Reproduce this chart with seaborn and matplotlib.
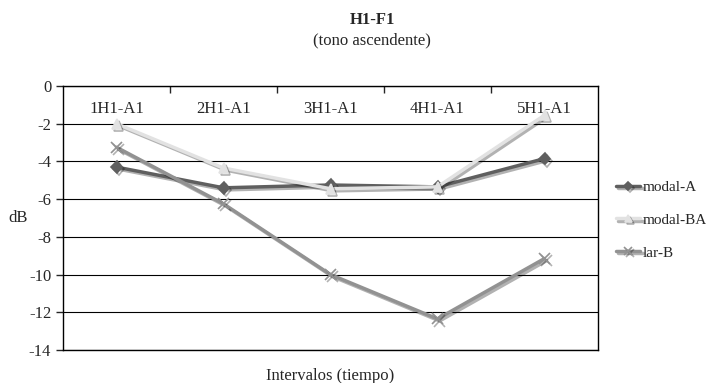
import matplotlib
matplotlib.use("Agg")
import matplotlib.pyplot as plt
import matplotlib.patheffects as pe
import seaborn as sns
import pandas as pd
import numpy as np

categories = ["1H1-A1", "2H1-A1", "3H1-A1", "4H1-A1", "5H1-A1"]
modal_A = [-4.3, -5.4, -5.25, -5.35, -3.85]
modal_BA = [-2.0, -4.35, -5.45, -5.35, -1.55]
lar_B = [-3.25, -6.25, -10.0, -12.35, -9.15]
series_names = ["modal-A", "modal-BA", "lar-B"]
y_ticks = [0, -2, -4, -6, -8, -10, -12, -14]

sns.set_style("white")
plt.rcParams["font.family"] = ["Liberation Serif", "DejaVu Serif"]

rows = []
for name, vals in zip(series_names, [modal_A, modal_BA, lar_B]):
    for c, v in zip(categories, vals):
        rows.append({"Intervalo": c, "dB": v, "serie": name})
df = pd.DataFrame(rows)

fig = plt.figure(figsize=(7.06, 3.83), dpi=100)
ax = fig.add_axes([63/706, 1-350/383, (598-63)/706, (350-86)/383])

palette = {"modal-A": "#5f5f5f", "modal-BA": "#e2e2e2", "lar-B": "#929292"}
markers = {"modal-A": "D", "modal-BA": "^", "lar-B": "x"}
sizes = {"modal-A": 6, "modal-BA": 7, "lar-B": 8}

FS = 12

for name in series_names:
    sub = df[df["serie"] == name]
    sns.lineplot(data=sub, x="Intervalo", y="dB", color=palette[name],
                 marker=markers[name], markersize=sizes[name],
                 markeredgecolor=palette[name], markeredgewidth=1.2,
                 linewidth=2.5, sort=False, ax=ax, label=name,
                 path_effects=[pe.SimpleLineShadow(offset=(1.5, -1.5), alpha=0.3, shadow_color="black"),
                               pe.Normal()])

ax.set_ylim(-14, 0)
ax.set_xlim(-0.5, 4.5)
ax.set_yticks(y_ticks)
ax.set_yticklabels([str(t) for t in y_ticks])
ax.yaxis.grid(True, color="#000000", linewidth=0.8)
ax.set_axisbelow(True)
for s in ax.spines.values():
    s.set_color("black")
    s.set_linewidth(1.0)

ax.xaxis.set_ticks_position("top")
ax.set_xticks(range(len(categories)))
ax.set_xticklabels(categories)
ax.set_xticks(np.arange(0.5, 4.5, 1.0), minor=True)
ax.tick_params(axis="x", which="major", length=0, labeltop=True, labelbottom=False,
               pad=-22, labelsize=FS)
ax.tick_params(axis="x", which="minor", length=5, direction="in", width=1.0, top=True, bottom=False)
ax.tick_params(axis="y", which="major", length=5, direction="out", width=1.0, labelsize=FS, left=True)

ax.set_xlabel("")
ax.set_ylabel("dB", rotation=0, fontsize=FS, va="center", ha="center")
ax.yaxis.set_label_coords((18-63)/535, 0.5)
fig.text(330/706, 1-376/383, "Intervalos (tiempo)", ha="center", va="center", fontsize=FS)

fig.text(372/706, 1-20/383, "H1-F1", ha="center", va="center", fontsize=FS, fontweight="bold")
fig.text(372/706, 1-40/383, "(tono ascendente)", ha="center", va="center", fontsize=FS)

leg = ax.legend(loc="center left", bbox_to_anchor=((616-63)/535, (350-220)/264), frameon=False,
                fontsize=11, handlelength=1.6, handletextpad=0.15, labelspacing=1.25,
                borderaxespad=0, borderpad=0, markerscale=0.7)

fig.savefig("out.png", dpi=100)
